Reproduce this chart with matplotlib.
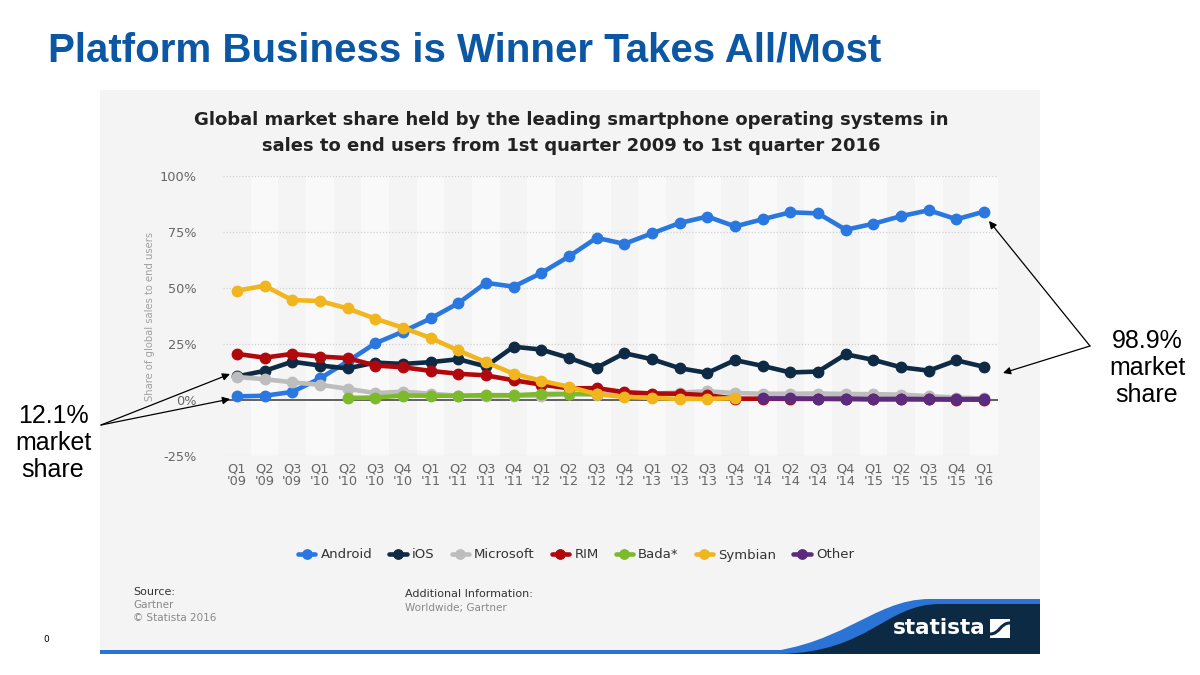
import matplotlib
matplotlib.use('Agg')
import matplotlib.pyplot as plt
import numpy as np
from matplotlib.patches import Rectangle, PathPatch
from matplotlib.path import Path

# ---------------- data ----------------
quarters = ["Q1\n'09", "Q2\n'09", "Q3\n'09", "Q1\n'10", "Q2\n'10", "Q3\n'10", "Q4\n'10",
            "Q1\n'11", "Q2\n'11", "Q3\n'11", "Q4\n'11", "Q1\n'12", "Q2\n'12", "Q3\n'12",
            "Q4\n'12", "Q1\n'13", "Q2\n'13", "Q3\n'13", "Q4\n'13", "Q1\n'14", "Q2\n'14",
            "Q3\n'14", "Q4\n'14", "Q1\n'15", "Q2\n'15", "Q3\n'15", "Q4\n'15", "Q1\n'16"]

android = [1.6, 1.9, 3.6, 9.6, 17.2, 25.3, 30.5, 36.4, 43.2, 52.3, 50.6, 56.7, 64.1, 72.4,
           69.7, 74.4, 79.0, 81.9, 77.5, 80.7, 83.8, 83.3, 76.0, 78.7, 82.1, 84.7, 80.7, 84.1]
ios = [10.5, 13.0, 17.1, 15.4, 14.1, 16.7, 16.1, 16.9, 18.2, 15.0, 23.8, 22.5, 18.8, 14.4,
       20.9, 18.2, 14.2, 12.1, 17.8, 15.2, 12.3, 12.7, 20.4, 17.9, 14.6, 13.1, 17.7, 14.8]
microsoft = [10.3, 9.3, 7.9, 6.8, 5.0, 3.1, 3.7, 2.8, 1.9, 1.6, 1.9, 1.9, 2.7, 2.4,
             3.0, 2.9, 3.3, 3.9, 3.1, 2.8, 2.8, 2.9, 2.7, 2.6, 2.4, 1.7, 1.1, 0.7]
rim = [20.6, 18.9, 20.6, 19.4, 18.7, 15.4, 14.6, 13.0, 11.7, 11.0, 8.8, 6.9, 5.2, 5.3,
       3.5, 2.9, 2.8, 2.1, 0.6, 0.6, 0.5, 0.5, 0.4, 0.3, 0.3, 0.3, 0.2, 0.2]
bada = [None, None, None, None, 0.9, 1.1, 2.0, 1.9, 1.9, 2.2, 2.1, 2.7, 2.7, 2.7,
        None, None, None, None, None, None, None, None, None, None, None, None, None, None]
symbian = [48.8, 51.0, 44.6, 44.2, 40.9, 36.3, 32.3, 27.7, 22.1, 16.9, 11.7, 8.6, 5.9, 2.6,
           1.4, 0.9, 0.5, 0.5, 0.8, None, None, None, None, None, None, None, None, None]
other = [None, None, None, None, None, None, None, None, None, None, None, None, None, None,
         None, None, None, None, None, 0.7, 0.7, 0.6, 0.6, 0.5, 0.5, 0.4, 0.4, 0.4]

series_names = ["Android", "iOS", "Microsoft", "RIM", "Bada*", "Symbian", "Other"]
series_vals = [android, ios, microsoft, rim, bada, symbian, other]
series_colors = ["#2a78df", "#0e2a44", "#bdbdbd", "#b1080d", "#7dba2b", "#f1b51e", "#5b2b7e"]
yticks = [-25, 0, 25, 50, 75, 100]

# ---------------- figure ----------------
W, H = 1200, 675
fig = plt.figure(figsize=(12, 6.75), dpi=100, facecolor='white')

bg = fig.add_axes([0, 0, 1, 1], zorder=0)
bg.set_xlim(0, W); bg.set_ylim(H, 0); bg.axis('off')

# statista panel
bg.add_patch(Rectangle((100, 90), 940, 563, facecolor='#f4f4f4', edgecolor='none'))
# bottom blue line
bg.add_patch(Rectangle((100, 650), 940, 4, facecolor='#2b74d6', edgecolor='none'))
# blue band curve
vb = [(740, 654), (840, 652), (870, 599), (930, 599), (1040, 599), (1040, 654), (740, 654)]
cb = [Path.MOVETO, Path.CURVE4, Path.CURVE4, Path.CURVE4, Path.LINETO, Path.LINETO, Path.CLOSEPOLY]
bg.add_patch(PathPatch(Path(vb, cb), facecolor='#2b74d6', edgecolor='none'))
vn = [(780, 654), (870, 652), (885, 604), (940, 604), (1040, 604), (1040, 654), (780, 654)]
bg.add_patch(PathPatch(Path(vn, cb), facecolor='#0c2a43', edgecolor='none'))
bg.text(939, 628, "statista", color='white', fontsize=15.5, fontweight='bold',
        ha='center', va='center', family='DejaVu Sans')
bg.add_patch(Rectangle((990, 619), 20, 19, facecolor='white', edgecolor='none'))
vs = [(990, 634), (1000, 634), (1000, 623), (1010, 623)]
bg.add_patch(PathPatch(Path(vs, [Path.MOVETO, Path.CURVE4, Path.CURVE4, Path.CURVE4]),
                       facecolor='none', edgecolor='#0c2a43', lw=2.2))

# slide title
bg.text(48, 51, "Platform Business is Winner Takes All/Most", color='#0b57a4',
        fontsize=29, fontweight='bold', family='Liberation Sans', ha='left', va='center')

# chart title
bg.text(571, 133, "Global market share held by the leading smartphone operating systems in\n"
        "sales to end users from 1st quarter 2009 to 1st quarter 2016",
        color='#222222', fontsize=13, fontweight='bold', ha='center', va='center',
        linespacing=1.6, family='DejaVu Sans')

# y label
bg.text(150, 316, "Share of global sales to end users", rotation=90, color='#a0a0a0',
        fontsize=7.2, ha='center', va='center')

# source blocks
bg.text(133, 592, "Source:", color='#333333', fontsize=8, ha='left', va='center')
bg.text(133, 605, "Gartner", color='#888888', fontsize=7.5, ha='left', va='center')
bg.text(133, 618, "\u00a9 Statista 2016", color='#888888', fontsize=7.5, ha='left', va='center')
bg.text(405, 594, "Additional Information:", color='#333333', fontsize=8, ha='left', va='center')
bg.text(405, 608, "Worldwide; Gartner", color='#888888', fontsize=7.5, ha='left', va='center')
bg.text(46, 640, "0", color='#000000', fontsize=6.5, ha='center', va='center')

# ---------------- plot axes ----------------
left, right, top, bottom = 223, 998, 176, 456
ax = fig.add_axes([left / W, 1 - bottom / H, (right - left) / W, (bottom - top) / H], zorder=2)
ax.set_facecolor('#f4f4f4')
x = np.arange(len(quarters))
for i in x:
    if i % 2 == 1:
        ax.axvspan(i - 0.5, i + 0.5, color='#f9f9f9', zorder=0, lw=0)
for t in yticks:
    if t != 0:
        ax.axhline(t, color='#d2d2d2', lw=0.9, ls=(0, (1, 1.5)), zorder=1)
ax.axhline(0, color='#555555', lw=1.3, zorder=1.5)

handles = []
for k, (name, vals, col) in enumerate(zip(series_names, series_vals, series_colors)):
    v = np.array([np.nan if a is None else a for a in vals], dtype=float)
    h, = ax.plot(x, v, '-o', color=col, lw=3.3, ms=7.5, label=name, zorder=3 + k,
                 clip_on=False, solid_capstyle='round', solid_joinstyle='round')
    handles.append(h)

ax.set_xlim(-0.5, len(quarters) - 0.5)
ax.set_ylim(-25, 100)
ax.set_yticks(yticks)
ax.set_yticklabels([f"{t}%" for t in yticks])
ax.set_xticks(x)
ax.set_xticklabels(quarters, linespacing=0.95)
ax.tick_params(axis='both', length=0, colors='#666666', labelsize=9.3)
ax.tick_params(axis='y', pad=19)
ax.tick_params(axis='x', pad=5)
for s in ax.spines.values():
    s.set_visible(False)

leg = fig.legend(handles=handles, loc='center', bbox_to_anchor=(576 / W, 1 - 555 / H),
                 ncol=7, frameon=False, fontsize=9.5, handlelength=1.3, handletextpad=0.4,
                 columnspacing=1.3, markerscale=0.9)
for t in leg.get_texts():
    t.set_color('#333333')

# ---------------- foreground annotations ----------------
fg = fig.add_axes([0, 0, 1, 1], zorder=10)
fg.set_xlim(0, W); fg.set_ylim(H, 0); fg.axis('off'); fg.patch.set_alpha(0)

fg.text(53, 443, "12.1%\nmarket\nshare", fontsize=18, family='Liberation Sans', color='black',
        ha='center', va='center', linespacing=1.15)
fg.text(1147, 368, "98.9%\nmarket\nshare", fontsize=18, family='Liberation Sans', color='black',
        ha='center', va='center', linespacing=1.15)
ap = dict(arrowstyle='-|>', color='black', lw=0.9, mutation_scale=11, shrinkA=0, shrinkB=0)
fg.annotate("", xy=(230, 374), xytext=(101, 425), arrowprops=ap)
fg.annotate("", xy=(230, 399), xytext=(101, 425), arrowprops=ap)
fg.annotate("", xy=(989, 221), xytext=(1090, 346), arrowprops=ap)
fg.annotate("", xy=(1003, 373), xytext=(1090, 346), arrowprops=ap)

fig.savefig('out.png', dpi=100, facecolor='white')
